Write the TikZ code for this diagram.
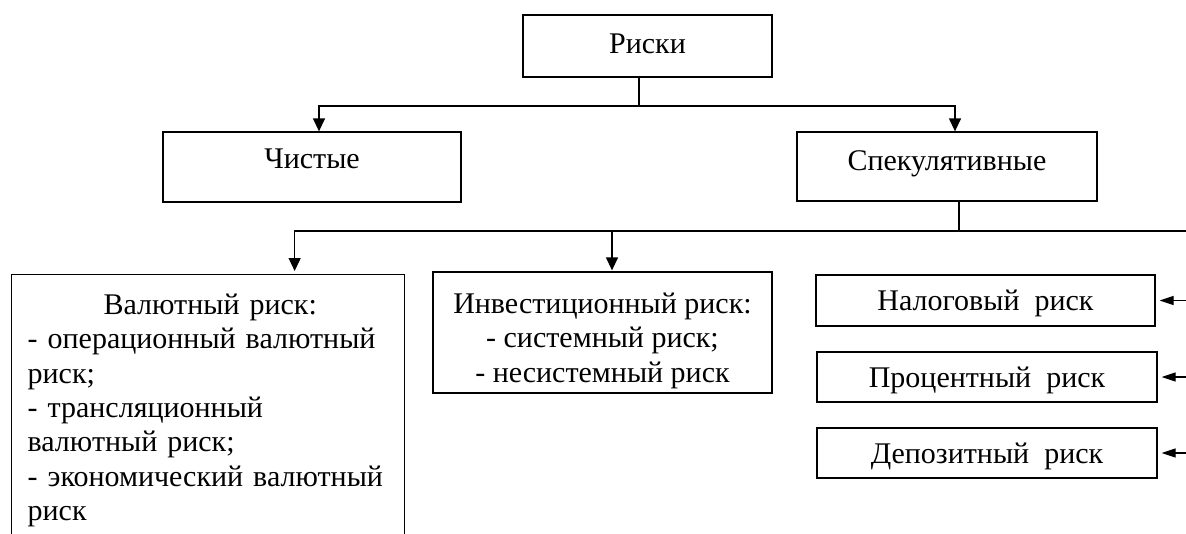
\documentclass[tikz,border=0pt]{standalone}
\usepackage{fontspec}
\setmainfont{Liberation Serif}
\usetikzlibrary{arrows.meta}

\begin{document}
\begin{tikzpicture}[x=1pt, y=-1pt, line width=1.3pt,
		font=\fontsize{30}{34.3}\selectfont,
		box/.style = {draw, inner sep=0pt, align=center, text height=20pt},
		arr/.style = {-{Triangle[length=13pt, width=12pt]}},
		side/.style = {-{Triangle[length=14pt, width=9pt]}, shorten >=4pt}]
		\useasboundingbox (0,0) rectangle (1186,533);
		
		\node[box, text depth=6pt, minimum width=249pt, minimum height=62pt] (risk) at (647.5,46) {Риски};
		\node[box, text depth=18pt, minimum width=298pt, minimum height=70pt] (clean) at (312,167) {Чистые};
		\node[box, text depth=13pt, minimum width=300pt, minimum height=69pt] (spec) at (947,166.5) {Спекулятивные};
		
		\node[draw, anchor=north west, text width=361pt, text height=22pt, inner xsep=16pt, inner ysep=18pt, align=left] (curr) at (11,274)
			{\hspace*{76pt}Валютный риск:\\- операционный валютный\\риск;\\- трансляционный\\валютный риск;\\- экономический валютный\\риск};
		\node[box, text height=99pt, text depth=0pt, minimum width=339pt, minimum height=121pt] (inv) at (602.5,332.5)
			{Инвестиционный риск:\\- системный риск;\\- несистемный риск};
		\node[box, text depth=0pt, minimum width=339pt, minimum height=51pt] (tax) at (985.5,300.5) {Налоговый\ \ риск};
		\node[box, text depth=0pt, minimum width=340pt, minimum height=50pt] (rate) at (987,377) {Процентный\ \ риск};
		\node[box, text depth=0pt, minimum width=340pt, minimum height=50pt] (dep) at (987,453) {Депозитный\ \ риск};
		
		\coordinate (j1) at (639,106);
		\coordinate (j2) at (959,231);
		\coordinate (edge) at (1186,231);
		
		\draw (risk.south -| j1) -- (j1);
		\draw[arr] (j1) -| ([xshift=7pt]clean.north);
		\draw[arr] (j1) -| ([xshift=8pt]spec.north);
		
		\draw (spec.south -| j2) -- (j2) -- (edge);
		\draw[arr, shorten >=3pt] (j2) -| ([xshift=86.5pt]curr.north);
		\draw[arr, shorten >=1pt] (j2) -| ([xshift=9.5pt]inv.north);
		
		\draw[side] (edge |- tax.east) -- (tax.east);
		\draw[side] (edge |- rate.east) -- (rate.east);
		\draw[side] (edge |- dep.east) -- (dep.east);
	\end{tikzpicture}
\end{document}
